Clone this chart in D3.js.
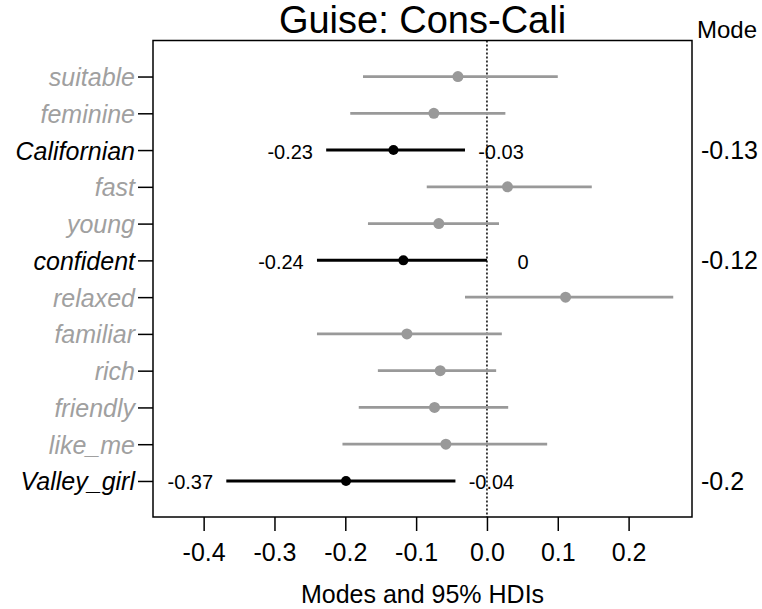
<!DOCTYPE html>
<html>
<head>
<meta charset="utf-8">
<script src="https://cdn.jsdelivr.net/npm/d3@7"></script>
<style>
  body { margin: 0; background: #fff; }
  text { font-family: "Liberation Sans", Arial, sans-serif; }
</style>
</head>
<body>
<div id="main"></div>
<script>
// traits, top to bottom
const traits = ['suitable', 'feminine', 'Californian', 'fast', 'young', 'confident',
                'relaxed', 'familiar', 'rich', 'friendly', 'like_me', 'Valley_girl'];
// posterior modes and 95% HDI limits
const modes   = [-0.041, -0.075, -0.132, 0.029, -0.068, -0.118, 0.111, -0.113, -0.066, -0.074, -0.058, -0.199];
const hdiLow  = [-0.175, -0.193, -0.227, -0.085, -0.168, -0.240, -0.031, -0.240, -0.154, -0.181, -0.204, -0.368];
const hdiHigh = [0.100, 0.026, -0.031, 0.148, 0.017, 0.000, 0.263, 0.021, 0.013, 0.030, 0.085, -0.0445];
const xTicks  = [-0.4, -0.3, -0.2, -0.1, 0.0, 0.1, 0.2];

const width = 762, height = 609;
const box = { left: 153, right: 692, top: 40.5, bottom: 517 };

const rows = traits.map((t, i) => ({
  trait: t, mode: modes[i], lo: hdiLow[i], hi: hdiHigh[i],
  // rows whose HDI does not cross zero are drawn in black
  strong: hdiHigh[i] <= 0 || hdiLow[i] >= 0
}));

const fmt = v => String(Math.round(v * 100) / 100);

const x = d3.scaleLinear().domain([-0.4715, 0.2895]).range([box.left, box.right]);
const y = d3.scalePoint().domain(traits).range([box.top, box.bottom]).padding(0.98);

const col = d => d.strong ? '#000' : '#999';

let svg = d3.select('#main')
  .append('svg')
    .attr('width', width)
    .attr('height', height);

// title and the "Mode" header
svg.append('text')
  .attr('x', (box.left + box.right) / 2).attr('y', 33)
  .attr('text-anchor', 'middle')
  .style('font-size', '38px')
  .text('Guise: Cons-Cali');

svg.append('text')
  .attr('x', 697).attr('y', 38)
  .style('font-size', '24px')
  .text('Mode');

// zero reference line
svg.append('line')
  .attr('x1', x(0)).attr('x2', x(0))
  .attr('y1', box.top).attr('y2', box.bottom)
  .attr('stroke', '#000').attr('stroke-width', 1.5)
  .attr('stroke-dasharray', '2,2');

// HDI segments
svg.selectAll('.hdi')
  .data(rows)
  .enter()
  .append('line')
    .attr('class', 'hdi')
    .attr('x1', d => x(d.lo)).attr('x2', d => x(d.hi))
    .attr('y1', d => y(d.trait)).attr('y2', d => y(d.trait))
    .attr('stroke', col)
    .attr('stroke-width', d => d.strong ? 3 : 2.8);

// modes
svg.selectAll('.mode')
  .data(rows)
  .enter()
  .append('circle')
    .attr('class', 'mode')
    .attr('cx', d => x(d.mode))
    .attr('cy', d => y(d.trait))
    .attr('r', d => d.strong ? 5 : 5.5)
    .attr('fill', col);

const strongRows = rows.filter(d => d.strong);

// HDI limit labels next to the black segments
svg.selectAll('.loLab')
  .data(strongRows)
  .enter()
  .append('text')
    .attr('x', d => x(d.lo) - 36)
    .attr('y', d => y(d.trait) + 8.5)
    .attr('text-anchor', 'middle')
    .style('font-size', '20px')
    .text(d => fmt(d.lo));

svg.selectAll('.hiLab')
  .data(strongRows)
  .enter()
  .append('text')
    .attr('x', d => x(d.hi) + 36)
    .attr('y', d => y(d.trait) + 8.5)
    .attr('text-anchor', 'middle')
    .style('font-size', '20px')
    .text(d => fmt(d.hi));

// mode values in the right margin
svg.selectAll('.modeLab')
  .data(strongRows)
  .enter()
  .append('text')
    .attr('x', 701)
    .attr('y', d => y(d.trait) + 9)
    .style('font-size', '25px')
    .text(d => fmt(d.mode));

// x axis
let xAxis = svg.append('g')
  .attr('transform', `translate(0,${box.bottom})`)
  .call(d3.axisBottom(x).tickValues(xTicks).tickFormat(d3.format('.1f')).tickSize(14).tickSizeOuter(0));
xAxis.select('.domain').remove();
xAxis.selectAll('line').attr('stroke-width', 1.5);
xAxis.selectAll('text')
  .attr('y', 44).attr('dy', 0)
  .style('font-size', '25px')
  .style('font-family', '"Liberation Sans", Arial, sans-serif')
  .text(d => d3.format('.1f')(d).replace('−', '-'));

// y axis
let yAxis = svg.append('g')
  .attr('transform', `translate(${box.left},0)`)
  .call(d3.axisLeft(y).tickSize(15).tickSizeOuter(0));
yAxis.select('.domain').remove();
yAxis.selectAll('line').attr('stroke-width', 1.5);
yAxis.selectAll('text')
  .attr('x', -18).attr('dy', 0).attr('y', 9)
  .style('font-size', '25px')
  .style('font-style', 'italic')
  .style('font-family', '"Liberation Sans", Arial, sans-serif')
  .attr('fill', d => rows.find(r => r.trait === d).strong ? '#000' : '#a0a0a0');

// plot box
svg.append('rect')
  .attr('x', box.left).attr('y', box.top)
  .attr('width', box.right - box.left).attr('height', box.bottom - box.top)
  .attr('fill', 'none')
  .attr('stroke', '#000').attr('stroke-width', 1.5);

// x axis title
svg.append('text')
  .attr('x', (box.left + box.right) / 2).attr('y', 603)
  .attr('text-anchor', 'middle')
  .style('font-size', '25px')
  .text('Modes and 95% HDIs');
</script>
</body>
</html>
